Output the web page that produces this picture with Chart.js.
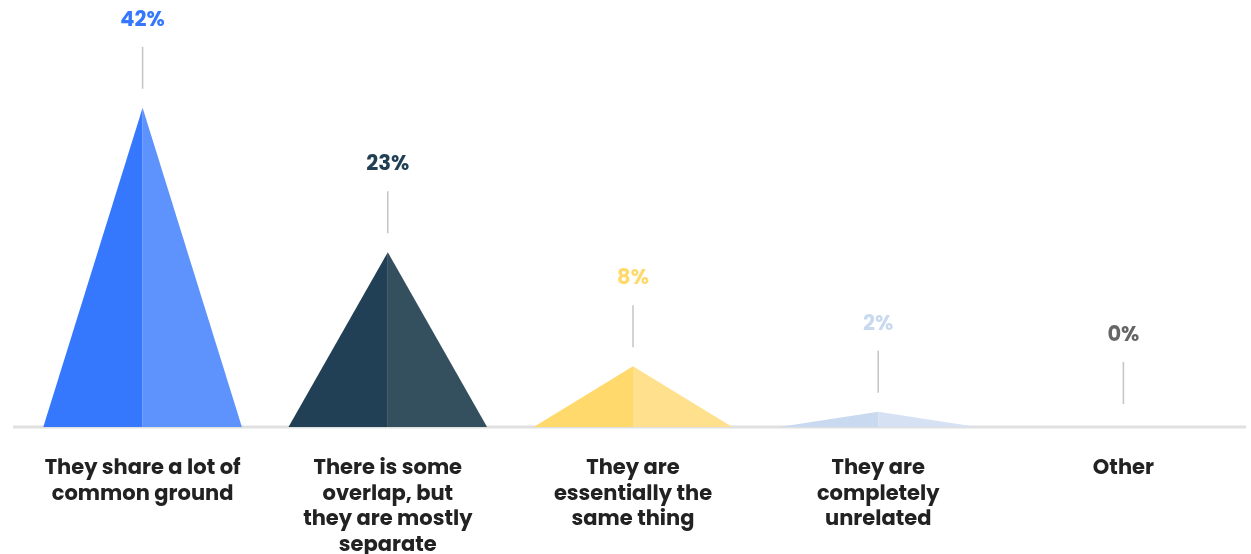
<!DOCTYPE html>
<html>
<head>
    <title>Relationship Survey</title>
    <script src="https://cdn.jsdelivr.net/npm/chart.js"></script>
    <style>
        html, body { margin: 0; padding: 0; background: #fff; }
        #wrap { width: 1251px; height: 554px; }
    </style>
</head>
<body>
    <div id="wrap"><canvas id="chart"></canvas></div>

    <script>
        // Answers and their shares
        var labels = [
            ['They share a lot of', 'common ground'],
            ['There is some', 'overlap, but', 'they are mostly', 'separate'],
            ['They are', 'essentially the', 'same thing'],
            ['They are', 'completely', 'unrelated'],
            ['Other']
        ];
        var values = [42, 23, 8, 2, 0];

        // Each pyramid has a darker left face and a lighter right face
        var leftColors = ['#3578fe', '#213f55', '#ffd96b', '#c9d9ef', '#cccccc'];
        var rightColors = ['#5e93fe', '#34505f', '#ffe08c', '#d6e2f3', '#dddddd'];
        var labelColors = ['#3578fe', '#213f55', '#ffd96b', '#c9d9ef', '#666666'];

        var fontFamily = 'Poppins, Inter, "Noto Sans", sans-serif';

        // Turn each bar into a two-tone triangle with a leader line and value label
        var pyramidPlugin = {
            id: 'pyramids',
            afterDatasetsDraw: function(chart) {
                var ctx = chart.ctx;
                var meta = chart.getDatasetMeta(0);

                // baseline
                ctx.save();
                ctx.strokeStyle = '#e0e0e0';
                ctx.lineWidth = 3;
                ctx.beginPath();
                ctx.moveTo(13, meta.data[0].base);
                ctx.lineTo(1246, meta.data[0].base);
                ctx.stroke();
                ctx.restore();

                meta.data.forEach(function(bar, i) {
                    var half = bar.width / 2;
                    var x = bar.x, top = bar.y, base = bar.base;

                    ctx.save();
                    if (base - top > 0.5) {
                        ctx.fillStyle = leftColors[i];
                        ctx.beginPath();
                        ctx.moveTo(x - half, base);
                        ctx.lineTo(x, top);
                        ctx.lineTo(x, base);
                        ctx.closePath();
                        ctx.fill();

                        ctx.fillStyle = rightColors[i];
                        ctx.beginPath();
                        ctx.moveTo(x, base);
                        ctx.lineTo(x, top);
                        ctx.lineTo(x + half, base);
                        ctx.closePath();
                        ctx.fill();
                    }

                    var lineBottom = Math.min(top, base - 4) - 19;
                    var lineTop = lineBottom - 42;
                    ctx.strokeStyle = '#c4c4c4';
                    ctx.lineWidth = 1.5;
                    ctx.beginPath();
                    ctx.moveTo(x, lineBottom);
                    ctx.lineTo(x, lineTop);
                    ctx.stroke();

                    ctx.fillStyle = labelColors[i];
                    ctx.font = '700 21px ' + fontFamily;
                    ctx.textAlign = 'center';
                    ctx.textBaseline = 'middle';
                    ctx.fillText(values[i] + '%', x, lineTop - 26);
                    ctx.restore();
                });
            }
        };

        var ctx = document.getElementById('chart').getContext('2d');
        new Chart(ctx, {
            type: 'bar',
            data: {
                labels: labels,
                datasets: [{
                    data: values,
                    backgroundColor: 'rgba(0,0,0,0)',
                    borderWidth: 0,
                    categoryPercentage: 0.9,
                    barPercentage: 0.9
                }]
            },
            options: {
                responsive: true,
                maintainAspectRatio: false,
                animation: false,
                layout: { padding: { top: 9, left: 20, right: 5, bottom: 0 } },
                plugins: {
                    legend: { display: false },
                    tooltip: { enabled: false }
                },
                scales: {
                    x: {
                        grid: { display: false, drawTicks: false },
                        border: { display: false },
                        afterFit: function(scale) { scale.height = 127; },
                        ticks: {
                            color: '#222222',
                            padding: 29,
                            maxRotation: 0,
                            autoSkip: false,
                            font: { family: fontFamily, size: 21, weight: '700', lineHeight: 1.215 }
                        }
                    },
                    y: {
                        display: false,
                        min: 0,
                        max: 55
                    }
                }
            },
            plugins: [pyramidPlugin]
        });
    </script>
</body>
</html>
